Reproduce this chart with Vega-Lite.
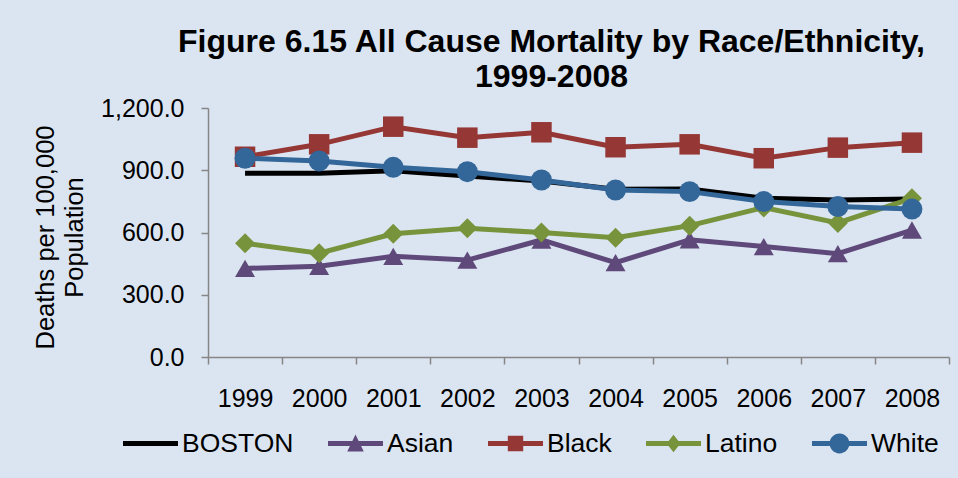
{
  "$schema": "https://vega.github.io/schema/vega-lite/v6.json",
  "width": 741,
  "height": 249,
  "autosize": {"type": "none"},
  "padding": {"left": 208, "top": 108, "right": 9, "bottom": 121},
  "background": "#dbe5f1",
  "title": {
    "text": ["Figure 6.15 All Cause Mortality by Race/Ethnicity,", "1999-2008"],
    "font": "Liberation Sans",
    "fontSize": 32,
    "fontWeight": "bold",
    "color": "#000000",
    "anchor": "middle",
    "dx": -27,
    "lineHeight": 35,
    "offset": 2
  },
  "config": {
    "view": {"stroke": null},
    "axis": {
      "labelFont": "Liberation Sans",
      "labelFontSize": 25,
      "labelColor": "#000000",
      "titleFont": "Liberation Sans",
      "titleFontSize": 25.5,
      "titleFontWeight": "normal",
      "titleColor": "#000000",
      "domainColor": "#868686",
      "tickColor": "#868686",
      "domainWidth": 1.5,
      "tickWidth": 1.5,
      "grid": false
    },
    "legend": {
      "labelFont": "Liberation Sans",
      "labelFontSize": 26.5,
      "labelColor": "#000000"
    }
  },
  "data": {
    "values": [
      {"year": "1999", "series": "BOSTON", "value": 885},
      {"year": "2000", "series": "BOSTON", "value": 885},
      {"year": "2001", "series": "BOSTON", "value": 898},
      {"year": "2002", "series": "BOSTON", "value": 872},
      {"year": "2003", "series": "BOSTON", "value": 848},
      {"year": "2004", "series": "BOSTON", "value": 808},
      {"year": "2005", "series": "BOSTON", "value": 810},
      {"year": "2006", "series": "BOSTON", "value": 765},
      {"year": "2007", "series": "BOSTON", "value": 757},
      {"year": "2008", "series": "BOSTON", "value": 762},
      {"year": "1999", "series": "Asian", "value": 427},
      {"year": "2000", "series": "Asian", "value": 437},
      {"year": "2001", "series": "Asian", "value": 485},
      {"year": "2002", "series": "Asian", "value": 467},
      {"year": "2003", "series": "Asian", "value": 564},
      {"year": "2004", "series": "Asian", "value": 455},
      {"year": "2005", "series": "Asian", "value": 565},
      {"year": "2006", "series": "Asian", "value": 532},
      {"year": "2007", "series": "Asian", "value": 498},
      {"year": "2008", "series": "Asian", "value": 612},
      {"year": "1999", "series": "Black", "value": 965},
      {"year": "2000", "series": "Black", "value": 1025},
      {"year": "2001", "series": "Black", "value": 1110},
      {"year": "2002", "series": "Black", "value": 1057},
      {"year": "2003", "series": "Black", "value": 1083},
      {"year": "2004", "series": "Black", "value": 1011},
      {"year": "2005", "series": "Black", "value": 1025},
      {"year": "2006", "series": "Black", "value": 958},
      {"year": "2007", "series": "Black", "value": 1009},
      {"year": "2008", "series": "Black", "value": 1033},
      {"year": "1999", "series": "Latino", "value": 548},
      {"year": "2000", "series": "Latino", "value": 500},
      {"year": "2001", "series": "Latino", "value": 594},
      {"year": "2002", "series": "Latino", "value": 620},
      {"year": "2003", "series": "Latino", "value": 600},
      {"year": "2004", "series": "Latino", "value": 575},
      {"year": "2005", "series": "Latino", "value": 633},
      {"year": "2006", "series": "Latino", "value": 720},
      {"year": "2007", "series": "Latino", "value": 646},
      {"year": "2008", "series": "Latino", "value": 765},
      {"year": "1999", "series": "White", "value": 958},
      {"year": "2000", "series": "White", "value": 945},
      {"year": "2001", "series": "White", "value": 914},
      {"year": "2002", "series": "White", "value": 893},
      {"year": "2003", "series": "White", "value": 853},
      {"year": "2004", "series": "White", "value": 805},
      {"year": "2005", "series": "White", "value": 797},
      {"year": "2006", "series": "White", "value": 749},
      {"year": "2007", "series": "White", "value": 725},
      {"year": "2008", "series": "White", "value": 713}
    ]
  },
  "encoding": {
    "x": {
      "field": "year",
      "type": "ordinal",
      "bandPosition": 0.5,
      "scale": {"type": "band", "paddingInner": 0, "paddingOuter": 0},
      "axis": {
        "title": null,
        "labelAngle": 0,
        "tickBand": "extent",
        "tickSize": 7,
        "labelPadding": 22
      }
    },
    "y": {
      "field": "value",
      "type": "quantitative",
      "scale": {"domain": [0, 1200], "nice": false, "zero": true},
      "axis": {
        "values": [0, 300, 600, 900, 1200],
        "format": ",.1f",
        "tickSize": 7,
        "labelPadding": 17,
        "title": ["Deaths per 100,000", "Population"],
        "titleAngle": -90,
        "titleLineHeight": 29,
        "titleAlign": "center",
        "titleBaseline": "middle",
        "titleX": -163,
        "titleY": 129
      }
    },
    "color": {
      "field": "series",
      "type": "nominal",
      "scale": {
        "domain": ["BOSTON", "Asian", "Black", "Latino", "White"],
        "range": ["#000000", "#5f497a", "#953735", "#77933c", "#336699"]
      }
    }
  },
  "layer": [
    {
      "mark": {"type": "line", "strokeWidth": 5},
      "encoding": {
        "color": {
          "field": "series",
          "type": "nominal",
          "legend": {
            "title": null,
            "orient": "none",
            "direction": "horizontal",
            "legendX": -85,
            "legendY": 308,
            "padding": 0,
            "symbolSize": 3025,
            "symbolStrokeWidth": 0,
            "labelOffset": 4,
            "columnPadding": 34,
            "labelLimit": 300,
            "encode": {
              "symbols": {
                "update": {
                  "shape": {"signal": "datum.value === 'BOSTON' ? 'M-1,-0.09H1V0.09H-1Z' : datum.value === 'Asian' ? 'M-1,-0.09H1V0.09H-1Z M0,-0.33L0.3,0.29L-0.3,0.29Z' : datum.value === 'Black' ? 'M-1,-0.09H1V0.09H-1Z M-0.28,-0.28H0.28V0.28H-0.28Z' : datum.value === 'Latino' ? 'M-1,-0.09H1V0.09H-1Z M0,-0.32L0.25,0L0,0.32L-0.25,0Z' : 'M-1,-0.09H1V0.09H-1Z M-0.36,0A0.36,0.36 0 1,1 0.36,0A0.36,0.36 0 1,1 -0.36,0Z'"},
                  "fill": {"scale": "color", "field": "value"},
                  "fillOpacity": {"value": 1},
                  "opacity": {"value": 1},
                  "strokeWidth": {"value": 0}
                }
              }
            }
          }
        }
      }
    },
    {
      "transform": [{"filter": "datum.series === 'Asian'"}],
      "mark": {"type": "point", "shape": "triangle-up", "filled": true, "opacity": 1, "size": 400},
      "encoding": {"color": {"field": "series", "type": "nominal", "legend": null}}
    },
    {
      "transform": [{"filter": "datum.series === 'Black'"}],
      "mark": {"type": "point", "shape": "square", "filled": true, "opacity": 1, "size": 420},
      "encoding": {"color": {"field": "series", "type": "nominal", "legend": null}}
    },
    {
      "transform": [{"filter": "datum.series === 'Latino'"}],
      "mark": {"type": "point", "shape": "diamond", "filled": true, "opacity": 1, "size": 400},
      "encoding": {"color": {"field": "series", "type": "nominal", "legend": null}}
    },
    {
      "transform": [{"filter": "datum.series === 'White'"}],
      "mark": {"type": "point", "shape": "circle", "filled": true, "opacity": 1, "size": 440},
      "encoding": {"color": {"field": "series", "type": "nominal", "legend": null}}
    }
  ]
}
